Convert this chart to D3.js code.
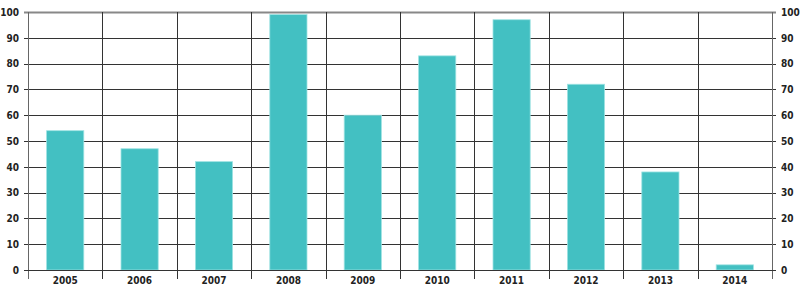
<!DOCTYPE html>
<html><head><meta charset="utf-8">
<script src="https://cdn.jsdelivr.net/npm/d3@7"></script>
<style>
body{margin:0;background:#fff;}
text{font-family:"Liberation Sans Narrow","DejaVu Sans Condensed",sans-serif;font-weight:bold;font-size:10px;fill:#222;}
</style></head>
<body><svg id="c" width="800" height="291"></svg>
<script>
const categories = ["2005","2006","2007","2008","2009","2010","2011","2012","2013","2014"];
const values = [54,47,42,99,60,83,97,72,38,2];
const yTicks = [0,10,20,30,40,50,60,70,80,90,100];

const svg = d3.select("#c");
const m = {l:28, r:28, t:12, b:21};
const W = 800, H = 291;
const x = d3.scaleBand().domain(categories).range([m.l, W - m.r]).paddingInner(0.5).paddingOuter(0.25);
const xb = d3.scaleBand().domain(categories).range([m.l, W - m.r]);
const y = d3.scaleLinear().domain([0,100]).range([H - m.b, m.t]);

// horizontal gridlines
svg.append("g").selectAll("line").data(yTicks).join("line")
  .attr("x1", m.l - 4).attr("x2", W - m.r + 4)
  .attr("y1", d => Math.round(y(d)) + 0.5).attr("y2", d => Math.round(y(d)) + 0.5)
  .attr("stroke", d => d === 100 ? "#888" : "#333")
  .attr("stroke-width", d => d === 100 ? 2 : 1);

// vertical boundaries
const bounds = categories.map(c => xb(c)).concat([W - m.r]);
svg.append("g").selectAll("line").data(bounds).join("line")
  .attr("x1", d => Math.round(d) + 0.5).attr("x2", d => Math.round(d) + 0.5)
  .attr("y1", m.t).attr("y2", H - m.b + 9)
  .attr("stroke", (d,i) => (i === 0 || i === bounds.length - 1) ? "#666" : "#333")
  .attr("stroke-width", 1);

// bars
svg.append("g").selectAll("rect").data(values).join("rect")
  .attr("x", (d,i) => x(categories[i]))
  .attr("width", x.bandwidth())
  .attr("y", d => y(d))
  .attr("height", d => y(0) - y(d))
  .attr("fill", "#43c0c2")
  .attr("stroke", "#9fe3e3")
  .attr("stroke-width", 0.8);

// baseline
svg.append("line").attr("x1", m.l - 4).attr("x2", W - m.r + 4)
  .attr("y1", Math.round(y(0)) + 0.5).attr("y2", Math.round(y(0)) + 0.5)
  .attr("stroke", "#333");

// x labels
svg.append("g").selectAll("text").data(categories).join("text")
  .attr("x", d => xb(d) + xb.bandwidth() / 2)
  .attr("y", H - m.b + 14)
  .attr("text-anchor", "middle")
  .text(d => d);

// y labels left / right
const yl = d3.axisLeft(y).tickValues(yTicks).tickSize(0).tickPadding(0);
svg.append("g").attr("transform", `translate(${m.l - 9},0)`).call(yl)
  .call(g => g.select(".domain").remove());
const yr = d3.axisRight(y).tickValues(yTicks).tickSize(0).tickPadding(0);
svg.append("g").attr("transform", `translate(${W - m.r + 9},0)`).call(yr)
  .call(g => g.select(".domain").remove());
svg.selectAll(".tick text").attr("font-family", null).attr("font-size", null).attr("fill", "#222");
</script></body></html>
